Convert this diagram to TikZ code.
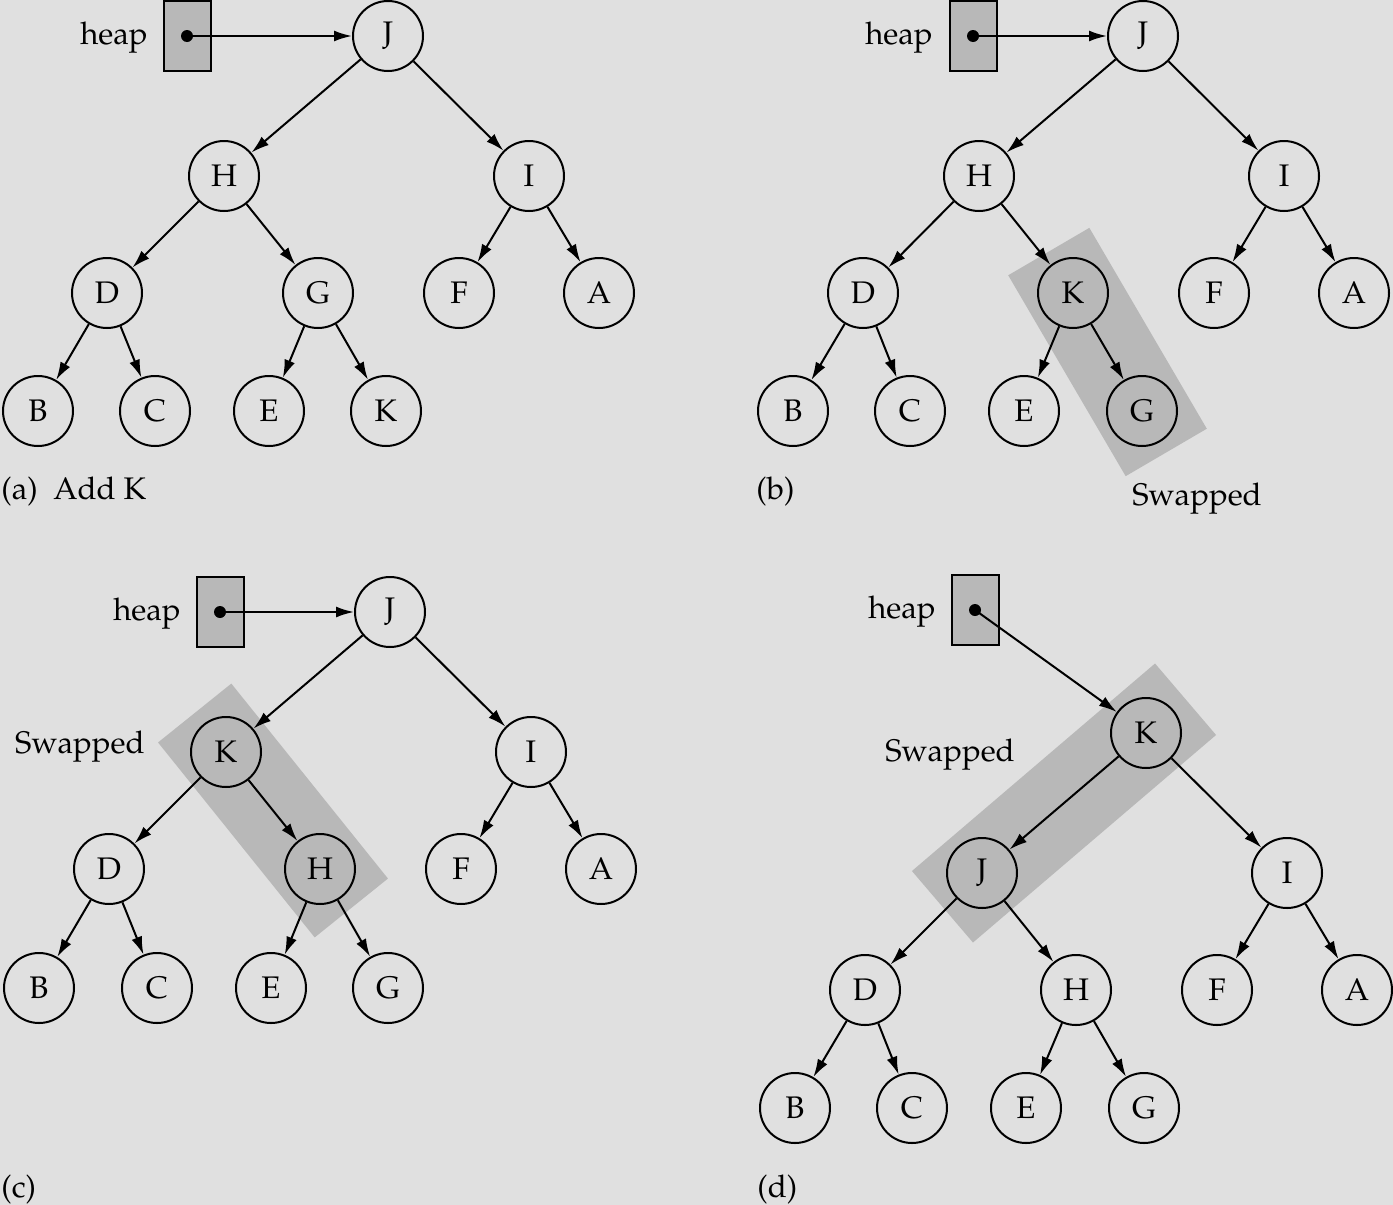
\documentclass[tikz,border=0pt]{standalone}
\usepackage[T1]{fontenc}
\usepackage{mathpazo}
\usetikzlibrary{arrows.meta,calc}
\definecolor{bg}{HTML}{E0E0E0}
\definecolor{sh}{HTML}{B8B8B8}
\newcommand{\hlband}[3]{%
  \coordinate (ea) at ($(#1)!-#3!(#2)$);
  \coordinate (eb) at ($(#2)!-#3!(#1)$);
  \fill[sh] ($(ea)!23.5pt!90:(eb)$) -- ($(eb)!23.5pt!-90:(ea)$) -- ($(eb)!23.5pt!90:(ea)$) -- ($(ea)!23.5pt!-90:(eb)$) -- cycle;}
\begin{document}
\begin{tikzpicture}[x=0.5pt,y=-0.5pt,
  font=\fontsize{15.6}{19}\selectfont,
  nd/.style={circle,draw,line width=1pt,minimum size=35pt,inner sep=0pt},
  hn/.style={nd,fill=sh},
  arr/.style={line width=1pt,-{Latex[length=9pt,width=5.5pt]}},
  hbox/.style={draw,fill=sh,line width=1pt,minimum width=23.5pt,minimum height=35pt,inner sep=0pt},
  hdot/.style={circle,fill,inner sep=0pt,minimum size=6pt},
  lbl/.style={inner sep=0pt}]
\fill[bg] (0,0) rectangle (1393,1205);
\useasboundingbox (0,0) rectangle (1393,1205);

% ---------- panel (a)
\node[lbl] (aht) at (114,38) {heap};
\node[hbox] (ahb) at (187,36) {};
\node[hdot] (ahd) at (ahb.center) {};
\node[nd] (aJ) at (388,36) {J};
\node[nd] (aH) at (224,176) {H};
\node[nd] (aI) at (529,176) {I};
\node[nd] (aD) at (107,293) {D};
\node[nd] (aG) at (318,293) {G};
\node[nd] (aF) at (459,293) {F};
\node[nd] (aA) at (599,293) {A};
\node[nd] (aB) at (38,411) {B};
\node[nd] (aC) at (155,411) {C};
\node[nd] (aE) at (269,411) {E};
\node[nd] (aK) at (386,411) {K};
\draw[arr] (ahd.center) -- (aJ);
\draw[arr] (aJ) -- (aH); \draw[arr] (aJ) -- (aI);
\draw[arr] (aH) -- (aD); \draw[arr] (aH) -- (aG);
\draw[arr] (aI) -- (aF); \draw[arr] (aI) -- (aA);
\draw[arr] (aD) -- (aB); \draw[arr] (aD) -- (aC);
\draw[arr] (aG) -- (aE); \draw[arr] (aG) -- (aK);
\node[lbl,anchor=west] (acap) at (1,491) {(a)\enspace Add K};

% ---------- panel (b)
\coordinate (bKc) at (1073,293);
\coordinate (bGc) at (1142,411);
\hlband{bKc}{bGc}{24pt}
\node[lbl] (bht) at (899,38) {heap};
\node[hbox] (bhb) at (973,36) {};
\node[hdot] (bhd) at (bhb.center) {};
\node[nd] (bJ) at (1143,36) {J};
\node[nd] (bH) at (979,176) {H};
\node[nd] (bI) at (1284,176) {I};
\node[nd] (bD) at (863,293) {D};
\node[hn] (bK) at (bKc) {K};
\node[nd] (bF) at (1214,293) {F};
\node[nd] (bA) at (1354,293) {A};
\node[nd] (bB) at (793,411) {B};
\node[nd] (bC) at (910,411) {C};
\node[nd] (bE) at (1024,411) {E};
\node[hn] (bG) at (bGc) {G};
\draw[arr] (bhd.center) -- (bJ);
\draw[arr] (bJ) -- (bH); \draw[arr] (bJ) -- (bI);
\draw[arr] (bH) -- (bD); \draw[arr] (bH) -- (bK);
\draw[arr] (bI) -- (bF); \draw[arr] (bI) -- (bA);
\draw[arr] (bD) -- (bB); \draw[arr] (bD) -- (bC);
\draw[arr] (bK) -- (bE); \draw[arr] (bK) -- (bG);
\node[lbl,anchor=west] (bcap) at (756,491) {(b)};
\node[lbl] (bsw) at (1197,499) {Swapped};

% ---------- panel (c)
\coordinate (cKc) at (226,752);
\coordinate (cHc) at (320,869);
\hlband{cKc}{cHc}{25pt}
\node[lbl] (cht) at (147,614) {heap};
\node[hbox] (chb) at (220,612) {};
\node[hdot] (chd) at (chb.center) {};
\node[nd] (cJ) at (390,612) {J};
\node[hn] (cK) at (cKc) {K};
\node[nd] (cI) at (531,752) {I};
\node[nd] (cD) at (109,869) {D};
\node[hn] (cH) at (cHc) {H};
\node[nd] (cF) at (461,869) {F};
\node[nd] (cA) at (601,869) {A};
\node[nd] (cB) at (39,988) {B};
\node[nd] (cC) at (157,988) {C};
\node[nd] (cE) at (271,988) {E};
\node[nd] (cG) at (388,988) {G};
\draw[arr] (chd.center) -- (cJ);
\draw[arr] (cJ) -- (cK); \draw[arr] (cJ) -- (cI);
\draw[arr] (cK) -- (cD); \draw[arr] (cK) -- (cH);
\draw[arr] (cI) -- (cF); \draw[arr] (cI) -- (cA);
\draw[arr] (cD) -- (cB); \draw[arr] (cD) -- (cC);
\draw[arr] (cH) -- (cE); \draw[arr] (cH) -- (cG);
\node[lbl] (csw) at (80,747) {Swapped};
\node[lbl,anchor=west] (ccap) at (1,1189) {(c)};

% ---------- panel (d)
\coordinate (dKc) at (1146,733);
\coordinate (dJc) at (982,873);
\hlband{dKc}{dJc}{26pt}
\node[lbl] (dht) at (902,612) {heap};
\node[hbox] (dhb) at (975,610) {};
\node[hdot] (dhd) at (dhb.center) {};
\node[hn] (dK) at (dKc) {K};
\node[hn] (dJ) at (dJc) {J};
\node[nd] (dI) at (1287,873) {I};
\node[nd] (dD) at (865,990) {D};
\node[nd] (dH) at (1076,990) {H};
\node[nd] (dF) at (1217,990) {F};
\node[nd] (dA) at (1357,990) {A};
\node[nd] (dB) at (795,1108) {B};
\node[nd] (dC) at (912,1108) {C};
\node[nd] (dE) at (1026,1108) {E};
\node[nd] (dG) at (1144,1108) {G};
\draw[arr] (dhd.center) -- (dK);
\draw[arr] (dK) -- (dJ); \draw[arr] (dK) -- (dI);
\draw[arr] (dJ) -- (dD); \draw[arr] (dJ) -- (dH);
\draw[arr] (dI) -- (dF); \draw[arr] (dI) -- (dA);
\draw[arr] (dD) -- (dB); \draw[arr] (dD) -- (dC);
\draw[arr] (dH) -- (dE); \draw[arr] (dH) -- (dG);
\node[lbl] (dsw) at (950,755) {Swapped};
\node[lbl,anchor=west] (dcap) at (757,1189) {(d)};
\end{tikzpicture}
\end{document}
